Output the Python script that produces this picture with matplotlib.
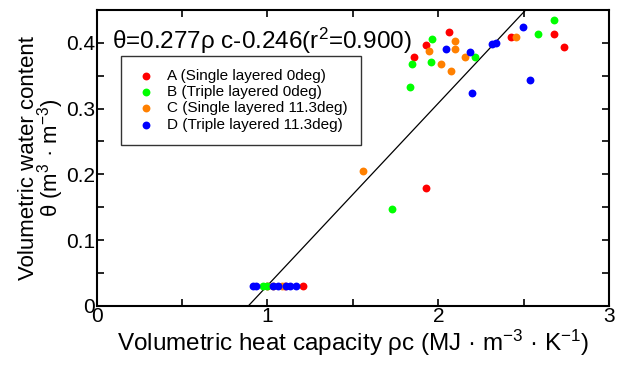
import numpy as np
import matplotlib
matplotlib.use("Agg")
import matplotlib.pyplot as plt
from matplotlib.ticker import MultipleLocator, FuncFormatter

plt.rcParams["font.family"] = ["Liberation Sans", "DejaVu Sans"]
plt.rcParams["mathtext.default"] = "regular"

# ---------- data ----------
labels = ["A (Single layered 0deg)", "B (Triple layered 0deg)",
          "C (Single layered 11.3deg)", "D (Triple layered 11.3deg)"]
colors = ["#ff0000", "#00ff00", "#ff8000", "#0000ff"]

a_x = [1.856, 1.929, 2.065, 1.929, 2.426, 2.676, 2.737, 1.208, 1.00, 1.10]
a_y = [0.379, 0.396, 0.416, 0.179, 0.408, 0.414, 0.394, 0.030, 0.030, 0.030]

b_x = [1.847, 1.837, 1.965, 1.956, 2.217, 2.586, 2.676, 1.727, 0.976, 1.00]
b_y = [0.367, 0.332, 0.405, 0.370, 0.378, 0.414, 0.434, 0.147, 0.030, 0.030]

c_x = [1.948, 2.016, 2.096, 2.096, 2.077, 2.157, 2.456, 1.558, 1.083, 1.03]
c_y = [0.388, 0.368, 0.403, 0.391, 0.357, 0.379, 0.408, 0.205, 0.030, 0.030]

d_x = [2.048, 2.186, 2.198, 2.317, 2.337, 2.497, 2.538,
       0.917, 0.933, 1.03, 1.06, 1.109, 1.132, 1.167]
d_y = [0.390, 0.386, 0.324, 0.398, 0.400, 0.424, 0.343,
       0.030, 0.030, 0.030, 0.030, 0.030, 0.030, 0.030]

series_x = [a_x, b_x, c_x, d_x]
series_y = [a_y, b_y, c_y, d_y]

# regression: theta = 0.277 * rho_c - 0.246
slope, intercept = 0.277, -0.246

# ---------- figure ----------
fig = plt.figure(figsize=(6.24, 3.65), dpi=100)
ax = fig.add_axes([0.155, 0.162, 0.821, 0.811])

for xs, ys, col, lab in zip(series_x, series_y, colors, labels):
    ax.scatter(xs, ys, s=32, color=col, label=lab, linewidths=0, zorder=3)

xl = np.array([0.0, 3.0])
ax.plot(xl, slope * xl + intercept, color="black", lw=0.9, zorder=2)

ax.set_xlim(0, 3)
ax.set_ylim(0, 0.45)
ax.xaxis.set_major_locator(MultipleLocator(1))
ax.xaxis.set_minor_locator(MultipleLocator(0.5))
ax.yaxis.set_major_locator(MultipleLocator(0.1))
ax.yaxis.set_minor_locator(MultipleLocator(0.05))
ax.yaxis.set_major_formatter(FuncFormatter(lambda v, p: "0" if v == 0 else f"{v:.1f}"))
ax.xaxis.set_major_formatter(FuncFormatter(lambda v, p: f"{v:.0f}"))
ax.tick_params(which="both", direction="in", top=True, right=True,
               length=5, width=1.2, labelsize=15, pad=1)
for sp in ax.spines.values():
    sp.set_linewidth(1.5)

ax.set_xlabel("Volumetric heat capacity ρc (MJ · m$^{-3}$ · K$^{-1}$)",
              fontsize=17.5, labelpad=1)
ax.set_ylabel("Volumetric water content\nθ (m$^3$ · m$^{-3}$)",
              fontsize=16, labelpad=0, linespacing=0.85)

ax.text(0.03, 0.945, "θ=0.277ρ c-0.246(r$^2$=0.900)", transform=ax.transAxes,
        fontsize=17.5, va="top", ha="left")

leg = ax.legend(loc="upper left", bbox_to_anchor=(0.047, 0.845), fontsize=11,
                frameon=True, fancybox=False, edgecolor="black",
                handletextpad=0.6, borderpad=0.85, labelspacing=0.15,
                handlelength=1.6, scatterpoints=1, borderaxespad=0)
leg.get_frame().set_linewidth(1.0)

fig.savefig("out.png", dpi=100)
